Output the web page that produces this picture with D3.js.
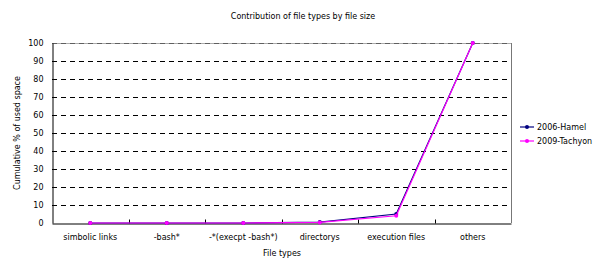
<html>
<head>
  <style>
    body { margin: 0; background: #fff; }
    text { font-family: "DejaVu Sans", sans-serif; }
  </style>
</head>
<body>
<script src="https://d3js.org/d3.v7.min.js"></script>
<script>
  // file type categories
  var categories = ["simbolic links", "-bash*", "-*(execpt -bash*)", "directorys", "execution files", "others"];
  // cumulative % of used space per series
  var hamel   = [0, 0, 0, 0.5, 5, 100];
  var tachyon = [0, 0, 0, 0.3, 4, 100];
  var yTicks  = [0, 10, 20, 30, 40, 50, 60, 70, 80, 90, 100];
  var seriesNames = ["2006-Hamel", "2009-Tachyon"];

  var width = 598, height = 259;
  // plot area edges (named so they don't clash with window.top)
  var plotL = 52, plotR = 511, plotT = 43, plotB = 223;

  var svg = d3.select('body').append('svg')
    .attr('width', width).attr('height', height);

  var x = d3.scaleBand().domain(categories).range([plotL, plotR]);
  var y = d3.scaleLinear().domain([0, 100]).range([plotB, plotT]);

  // gridlines
  svg.append('g').selectAll('line').data(yTicks.filter(function(d){ return d > 0; }))
    .enter().append('line')
    .attr('x1', plotL).attr('x2', plotR)
    .attr('y1', function(d){ return Math.round(y(d)) + 0.5; })
    .attr('y2', function(d){ return Math.round(y(d)) + 0.5; })
    .attr('stroke', '#000').attr('stroke-dasharray', '5,4').attr('stroke-width', 1);

  // gray frame top & right
  svg.append('line').attr('x1', plotL).attr('x2', plotR).attr('y1', plotT + 0.5).attr('y2', plotT + 0.5)
    .attr('stroke', '#888').attr('stroke-width', 1).attr('stroke-opacity', 0.7);
  svg.append('line').attr('x1', plotR + 0.5).attr('x2', plotR + 0.5).attr('y1', plotT).attr('y2', plotB)
    .attr('stroke', '#777').attr('stroke-width', 1);

  // y axis
  var yAxis = svg.append('g').attr('transform', 'translate(' + (plotL + 0.5) + ',0)')
    .call(d3.axisLeft(y).tickValues(yTicks).tickSize(0).tickPadding(9));
  yAxis.select('.domain').attr('stroke', '#000');
  yAxis.selectAll('text').style('font-size', '8px').attr('fill', '#000');

  // x axis
  var xAxis = svg.append('g').attr('transform', 'translate(0,' + (plotB + 0.5) + ')')
    .call(d3.axisBottom(x).tickSize(0).tickPadding(11));
  xAxis.select('.domain').attr('stroke', '#000');
  xAxis.selectAll('text').style('font-size', '8px').attr('fill', '#000');
  // category separators
  xAxis.selectAll('.sep').data(categories.slice(1)).enter().append('line')
    .attr('x1', function(d){ return Math.round(x(d)) + 0.5; })
    .attr('x2', function(d){ return Math.round(x(d)) + 0.5; })
    .attr('y1', 0).attr('y2', -4).attr('stroke', '#000');

  var line = d3.line()
    .x(function(d, i){ return x(categories[i]) + x.bandwidth() / 2; })
    .y(function(d){ return y(d); });

  var series = [
    { name: seriesNames[0], values: hamel, color: '#000080' },
    { name: seriesNames[1], values: tachyon, color: '#ff00ff' }
  ];

  series.forEach(function(s){
    svg.append('path').datum(s.values).attr('d', line)
      .attr('fill', 'none').attr('stroke', s.color).attr('stroke-width', 1.2);
    svg.append('g').selectAll('circle').data(s.values).enter().append('circle')
      .attr('cx', function(d, i){ return x(categories[i]) + x.bandwidth() / 2; })
      .attr('cy', function(d){ return y(d); })
      .attr('r', 2).attr('fill', s.color);
  });

  // legend
  series.forEach(function(s, i){
    var ly = 127 + i * 14;
    svg.append('line').attr('x1', 520).attr('x2', 534).attr('y1', ly).attr('y2', ly)
      .attr('stroke', s.color).attr('stroke-width', 1.2);
    svg.append('circle').attr('cx', 527).attr('cy', ly).attr('r', 2).attr('fill', s.color);
    svg.append('text').attr('x', 537).attr('y', ly + 3).text(s.name)
      .style('font-size', '8px').attr('fill', '#000');
  });

  // titles
  svg.append('text').attr('x', 303).attr('y', 19).attr('text-anchor', 'middle')
    .text('Contribution of file types by file size').style('font-size', '8px');
  svg.append('text').attr('x', 282).attr('y', 256).attr('text-anchor', 'middle')
    .text('File types').style('font-size', '8px');
  svg.append('text').attr('transform', 'translate(20,' + ((plotT + plotB) / 2) + ') rotate(-90)')
    .attr('text-anchor', 'middle').text('Cumulative % of used space').style('font-size', '8px');
</script>
</body>
</html>
